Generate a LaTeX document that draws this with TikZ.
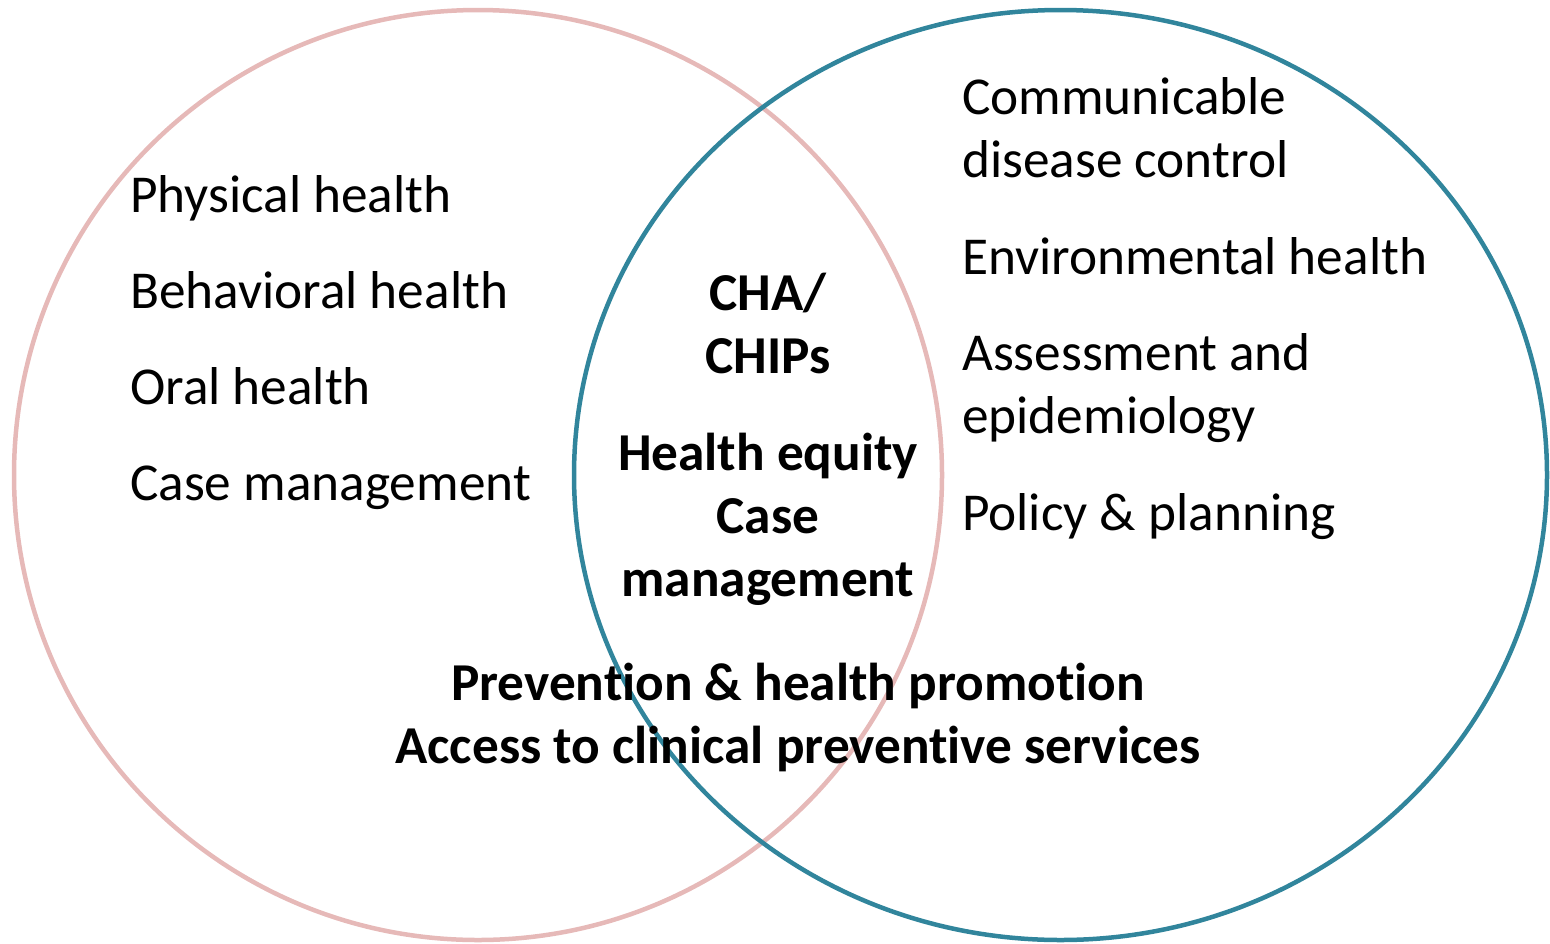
\documentclass[tikz,border=0pt]{standalone}
\usepackage{fontspec}
\setmainfont{Carlito}[Ligatures=NoCommon]
\definecolor{pinkc}{HTML}{E6B9B8}
\definecolor{tealc}{HTML}{31859C}
\begin{document}
\begin{tikzpicture}[x=1pt,y=-1pt,
  txt/.style={font=\fontsize{53.3}{64}\selectfont, inner sep=0pt, anchor=base west},
  btxt/.style={font=\fontsize{53.3}{64}\selectfont\bfseries, inner sep=0pt, anchor=base},
  ring/.style={line width=4.5pt}]
\useasboundingbox (0,0) rectangle (1550,943);
\draw[ring, pinkc] (478,475) ellipse [x radius=464, y radius=465];
\draw[ring, tealc] (1060.5,475) ellipse [x radius=486.5, y radius=465];
% left
\node[txt] (l1) at (130,212) {Physical health};
\node[txt] (l2) at (130,308) {Behavioral health};
\node[txt] (l3) at (130,404) {Oral health};
\node[txt] (l4) at (130,500) {Case management};
% right
\node[txt] (r1) at (962,114) {Communicable};
\node[txt] (r2) at (962,177) {disease control};
\node[txt] (r3) at (962,274) {Environmental health};
\node[txt] (r4) at (962,370) {Assessment and};
\node[txt] (r5) at (962,433) {epidemiology};
\node[txt] (r6) at (962,530) {Policy \& planning};
% center
\node[btxt] (c1) at (768,310) {CHA/};
\node[btxt] (c2) at (768,373) {CHIPs};
\node[btxt] (c3) at (768,470) {Health equity};
\node[btxt] (c4) at (768,533) {Case};
\node[btxt] (c5) at (768,596) {management};
% bottom
\node[btxt] (b1) at (798,700) {Prevent\kern0pt ion \& health promot\kern0pt ion};
\node[btxt] (b2) at (798,763) {Access to clinical prevent\kern0pt ive services};
\end{tikzpicture}
\end{document}
